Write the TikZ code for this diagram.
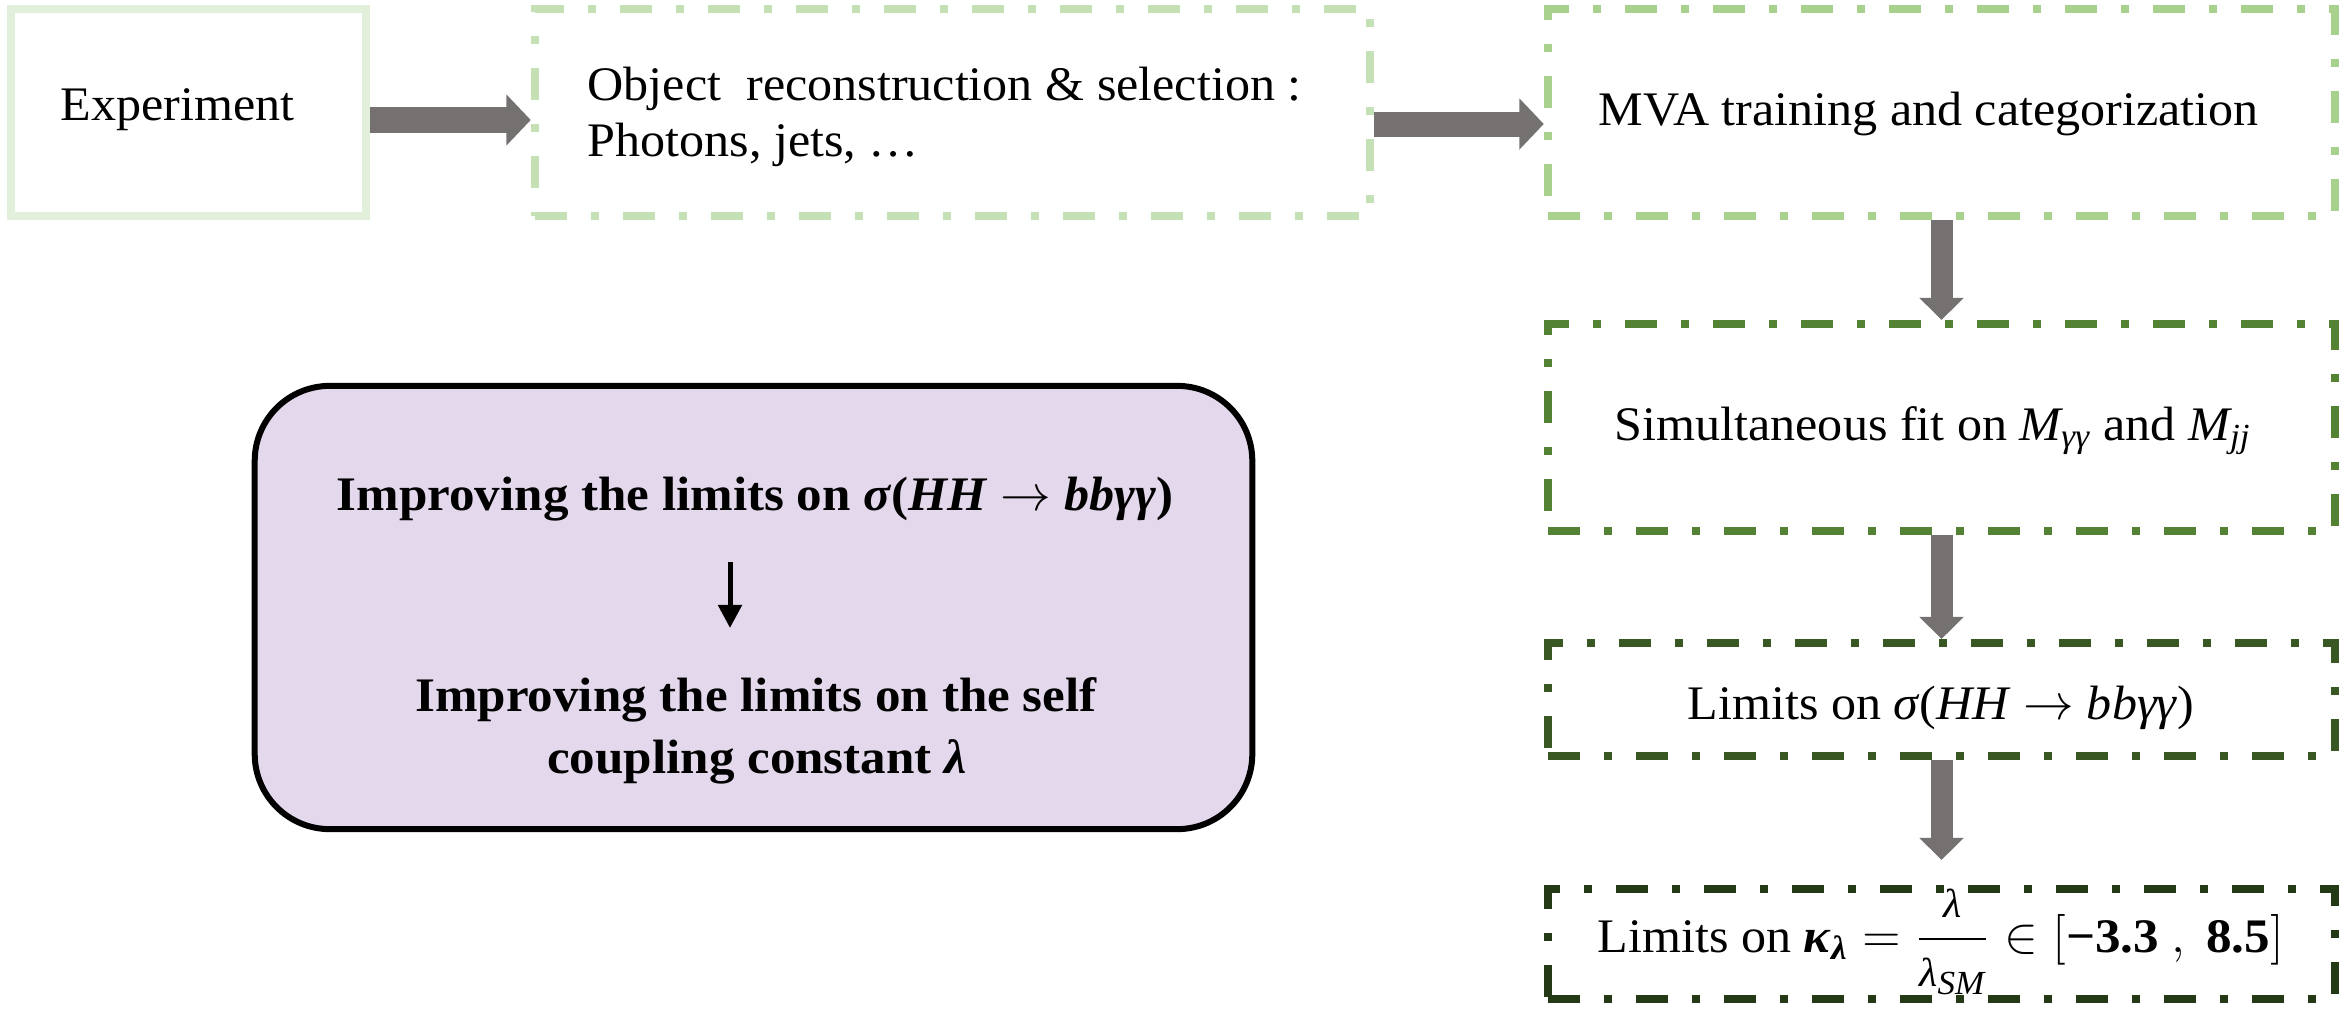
\documentclass[tikz,border=0pt]{standalone}
\usepackage{amsmath}
\usepackage{fontspec}
\setmainfont{Liberation Serif}[FakeStretch=1.04,BoldFeatures={FakeStretch=1.06}]
\usetikzlibrary{arrows.meta}
\definecolor{cexp}{HTML}{E2EFDA}
\definecolor{cobj}{HTML}{C5E0B4}
\definecolor{cmva}{HTML}{A9D18E}
\definecolor{csim}{HTML}{548235}
\definecolor{clim}{HTML}{385723}
\definecolor{ckap}{HTML}{243A17}
\definecolor{agray}{HTML}{767171}
\definecolor{pfill}{HTML}{E4D9EC}
\tikzset{
  solidbox/.style={rectangle, inner sep=0pt, line width=0.08cm},
  dashbox/.style={rectangle, inner sep=0pt, line width=0.08cm,
    dash pattern=on 0.32cm off 0.24cm on 0.08cm off 0.24cm},
  txt/.style={inner sep=0pt, font=\fontsize{13.7}{16}\selectfont},
  btxt/.style={inner sep=0pt, font=\fontsize{13.7}{16}\selectfont\bfseries},
  garrowh/.style={draw=agray, line width=0.25cm, -{Triangle[length=0.245cm,width=0.5cm]}},
  garrowv/.style={draw=agray, line width=0.22cm, -{Triangle[length=0.22cm,width=0.43cm]}},
  karrow/.style={draw=black, line width=0.05cm, -{Triangle[length=0.23cm,width=0.23cm]}},
  pbox/.style={rectangle, inner sep=0pt, line width=0.06cm, draw=black, fill=pfill, rounded corners=0.75cm},
}
\begin{document}
\begin{tikzpicture}[x=0.01cm,y=-0.01cm]
\useasboundingbox (0,0) rectangle (2346,1009);
% boxes
\node[solidbox, draw=cexp, minimum width=3.55cm, minimum height=2.07cm] (exp) at (188.5,112.5) {};
\node[dashbox, draw=cobj, minimum width=8.35cm, minimum height=2.07cm] (obj) at (952.5,112.5) {};
\node[dashbox, draw=cmva, minimum width=7.87cm, minimum height=2.07cm] (mva) at (1941.5,112.5) {};
\node[dashbox, draw=csim, minimum width=7.87cm, minimum height=2.07cm] (sim) at (1941.5,427.5) {};
\node[dashbox, draw=clim, minimum width=7.87cm, minimum height=1.13cm] (lim) at (1941.5,699.5) {};
\node[dashbox, draw=ckap, minimum width=7.87cm, minimum height=1.10cm] (kap) at (1941.5,944) {};
\node[pbox, minimum width=9.97cm, minimum height=4.43cm] (goal) at (753.5,607.5) {};
% texts
\node[txt, anchor=base west] (texp) at (60,120) {Experiment};
\node[txt, anchor=base west] (tobj1) at (587,100) {Object\ \ reconstruction \& selection :};
\node[txt, anchor=base west] (tobj2) at (587,156) {Photons, jets, …};
\node[txt, anchor=base west] (tmva) at (1598,125) {MVA training and categorization};
\node[txt, anchor=base west] (tsim) at (1614,440) {Simultaneous fit on $\textit{M}_{\textit{γγ}}$ and $\textit{M}_{\textit{jj}}$};
\node[txt, anchor=base] (tlim) at (1941,719) {Limits on \textit{σ}(\textit{HH} $\rightarrow$ \textit{bbγγ})};
\node[txt, anchor=base west] (tkap) at (1597,952) {Limits on $\textbf{\textit{κ}}_{\textbf{\textit{λ}}} = \dfrac{\text{\fontsize{11.5}{13}\selectfont\itshape λ}}{\text{\fontsize{11.5}{13}\selectfont\itshape λ}_{\textit{SM}}} \in [\textbf{−3.3}\ ,\ \textbf{8.5}]$};
\node[btxt, anchor=base] (tg1) at (755,510) {Improving the limits on \textit{σ}(\textit{HH} $\rightarrow$ \textit{bbγγ})};
\node[btxt, anchor=base] (tg2) at (756,711) {Improving the limits on the self};
\node[btxt, anchor=base] (tg3) at (757,773) {coupling constant \textit{λ}};
% arrows
\draw[garrowh] ([yshift=-0.075cm]exp.east) -- ([yshift=-0.075cm]obj.west);
\draw[garrowh] ([yshift=-0.115cm]obj.east) -- ([yshift=-0.115cm]mva.west);
\draw[garrowv] (mva.south) -- (sim.north);
\draw[garrowv] (sim.south) -- (lim.north);
\draw[garrowv, shorten >=0.25cm] (lim.south) -- (kap.north);
\coordinate (ka) at (730,562);
\coordinate (kb) at (730,628);
\draw[karrow] (ka) -- (kb);
\end{tikzpicture}
\end{document}
